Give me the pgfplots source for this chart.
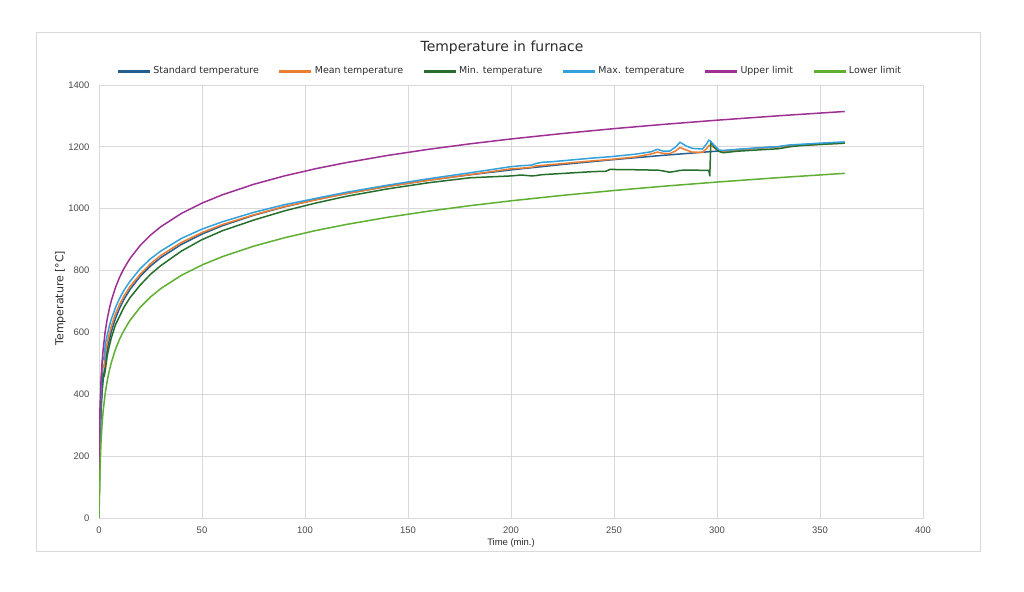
\documentclass[border=0pt]{standalone}
\usepackage{pgfplots}
\pgfplotsset{compat=1.18}
\usepackage{pgfplotstable}
\usepackage{fontspec}
\setmainfont{DejaVu Sans}
\newfontfamily\tickfont{Liberation Sans}

\definecolor{cstd}{RGB}{37,94,145}
\definecolor{cmean}{RGB}{237,125,49}
\definecolor{cmin}{RGB}{38,110,45}
\definecolor{cmax}{RGB}{52,160,220}
\definecolor{cup}{RGB}{158,48,148}
\definecolor{clo}{RGB}{95,175,50}
\definecolor{gridgray}{RGB}{217,217,217}
\definecolor{framegray}{RGB}{217,217,217}
\definecolor{tickgray}{RGB}{75,75,75}
\definecolor{textgray}{RGB}{45,45,45}

\pgfplotstableread{
t std up lo
0 20 120 0
0.25 184.6 284.6 84.6
0.5 261.2 361.2 161.2
1 349.2 449.2 249.2
1.5 404.3 504.3 304.3
2 444.5 544.5 344.5
3 502.3 602.3 402.3
4 543.9 643.9 443.9
5 576.4 676.4 476.4
6 603.1 703.1 503.1
8 645.4 745.4 545.4
10 678.4 778.4 578.4
12 705.4 805.4 605.4
15 738.6 838.6 638.6
20 781.3 881.3 681.3
25 814.6 914.6 714.6
30 841.8 941.8 741.8
40 884.7 984.7 784.7
50 918.1 1018.1 818.1
60 945.3 1045.3 845.3
75 978.7 1078.7 878.7
90 1006.0 1106.0 906.0
105 1029.1 1129.1 929.1
120 1049.0 1149.0 949.0
140 1072.1 1172.1 972.1
160 1092.1 1192.1 992.1
180 1109.7 1209.7 1009.7
200 1125.5 1225.5 1025.5
225 1143.1 1243.1 1043.1
250 1158.9 1258.9 1058.9
275 1173.2 1273.2 1073.2
300 1186.2 1286.2 1086.2
330 1200.5 1300.5 1100.5
362 1214.4 1314.4 1114.4
}\limits

\pgfplotstableread{
t max mean min
0 20 20 20
0.5 300 275 240
1 420 385 350
1.5 495 465 430
2 520 495 468
2.5 512 488 458
3 560 530 475
4 592 566 525
5 620 595 556
6 643 620 583
8 680 660 625
10 710 690 652
12 735 716 680
15 765 748 712
20 806 788 753
25 838 822 788
30 863 849 816
40 904 891 863
50 934 923 900
60 958 949 929
75 988 980 963
90 1013 1007 993
105 1033 1028 1018
120 1053 1049 1040
140 1076 1072 1064
160 1097 1092 1084
180 1116 1110 1100
200 1136 1129 1106
205 1139 1131 1109
210 1141 1134 1106
212 1146 1138 1107
215 1150 1140 1110
220 1152 1143 1112
240 1164 1155 1120
246 1167 1158 1121
248 1168 1159 1127
260 1176 1167 1126
268 1184 1177 1125
271 1192 1183 1125
274 1186 1179 1122
277 1186 1178 1118
280 1200 1187 1121
282 1215 1198 1124
285 1203 1190 1125
288 1195 1183 1125
293 1193 1182 1124
295 1210 1195 1124
296 1222 1204 1124
296.5 1220 1204 1106
297 1217 1203 1217
298.5 1206 1198 1200
301 1190 1186 1185
303 1188 1185 1181
310 1192 1189 1186
320 1197 1196 1190
330 1201 1200 1194
335 1206 1203 1200
340 1208 1205 1204
350 1212 1208 1208
362 1216 1212 1212
}\measured

\begin{document}
\begin{tikzpicture}
\useasboundingbox (0,0) rectangle (1024bp,592bp);
\fill[white] (0,0) rectangle (1024bp,592bp);
\draw[framegray, line width=1bp] (36.5bp,40bp) rectangle (980bp,559bp);
\node[font=\fontsize{14}{16}\selectfont, text=textgray] at (502bp,544bp) {Temperature in furnace};
\begin{axis}[
  at={(99bp,74bp)}, anchor=south west,
  scale only axis, width=824bp, height=433bp,
  xmin=0, xmax=400, ymin=0, ymax=1400,
  xtick distance=50, ytick distance=200,
  grid=major, grid style={gridgray, line width=0.8bp},
  axis line style={gridgray, line width=0.8bp},
  tick style={draw=none},
  ticklabel style={font=\tickfont\fontsize{9.5}{11}\selectfont, text=tickgray},
  xticklabel style={yshift=-5bp},
  yticklabel style={xshift=-6bp},
  /pgf/number format/assume math mode=true,
  /pgf/number format/1000 sep={},
  xlabel={Time (min.)},
  xlabel style={font=\tickfont\fontsize{9.5}{11}\selectfont, text=textgray, at={(axis description cs:0.5,-0.058)}, anchor=center},
  ylabel={Temperature [°C]},
  ylabel style={font=\fontsize{11}{12}\selectfont, text=textgray, at={(axis description cs:-0.047,0.508)}, anchor=center},
  legend columns=6,
  legend style={at={(0.4985,1.032)}, anchor=center, draw=none, fill=none,
    font=\fontsize{9.5}{11}\selectfont, text=textgray,
    /tikz/every even column/.append style={column sep=17bp}},
  legend cell align=left,
  legend image code/.code={\draw[line width=3bp] (0bp,0bp) -- (32bp,0bp);},
  every axis plot/.append style={line width=1.5bp, line join=round},
]
\addplot[cstd] table[x=t, y=std] {\limits};
\addlegendentry{Standard temperature}
\addplot[cmean] table[x=t, y=mean] {\measured};
\addlegendentry{Mean temperature}
\addplot[cmin] table[x=t, y=min] {\measured};
\addlegendentry{Min. temperature}
\addplot[cmax] table[x=t, y=max] {\measured};
\addlegendentry{Max. temperature}
\addplot[cup] table[x=t, y=up] {\limits};
\addlegendentry{Upper limit}
\addplot[clo] table[x=t, y=lo] {\limits};
\addlegendentry{Lower limit}
\end{axis}
\end{tikzpicture}
\end{document}
